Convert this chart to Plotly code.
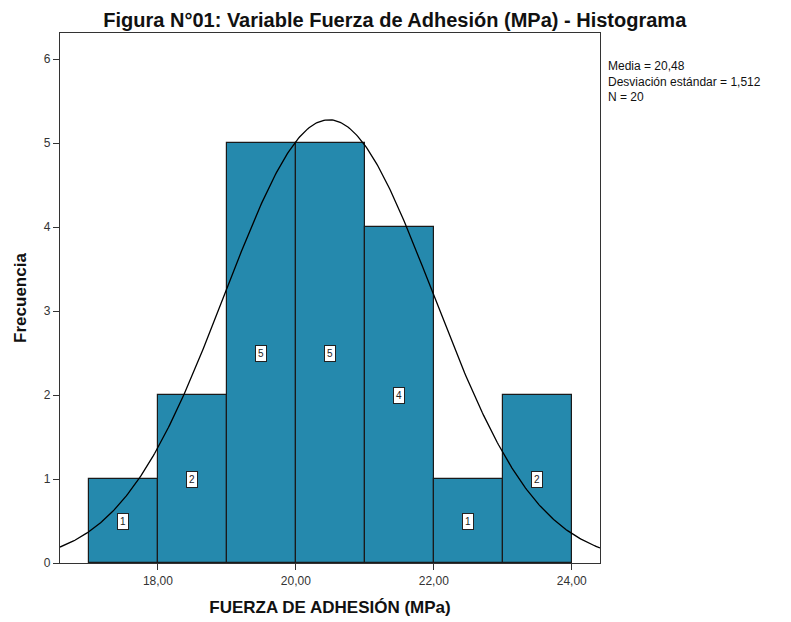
import numpy as np
import plotly.graph_objects as go

bin_centers = [17.5, 18.5, 19.5, 20.5, 21.5, 22.5, 23.5]
counts = [1, 2, 5, 5, 4, 1, 2]
mean_val = 20.48
sd_val = 1.512
n_val = 20
x_ticks = [18, 20, 22, 24]
x_tick_labels = ["18,00", "20,00", "22,00", "24,00"]
y_ticks = [0, 1, 2, 3, 4, 5, 6]

x_range = [16.58, 24.41]
y_range = [0, 6.31]

bar_color = "#2589AD"

fig = go.Figure()
fig.add_trace(go.Bar(
    x=bin_centers, y=counts, width=1,
    marker=dict(color=bar_color, line=dict(color="#1a1a1a", width=1.2)),
    hoverinfo="skip", showlegend=False,
))

# normal curve from mean, sd, N (bin width 1)
xs = np.linspace(x_range[0], x_range[1], 400)
ys = n_val * 1.0 / (sd_val * np.sqrt(2 * np.pi)) * np.exp(-0.5 * ((xs - mean_val) / sd_val) ** 2)
fig.add_trace(go.Scatter(x=xs, y=ys, mode="lines",
                         line=dict(color="black", width=1.3),
                         hoverinfo="skip", showlegend=False))

for xc, c in zip(bin_centers, counts):
    fig.add_annotation(x=xc, y=c / 2, text=str(c), showarrow=False,
                       font=dict(family="Liberation Sans, Arial", size=10, color="#222"),
                       bgcolor="white", bordercolor="#222", borderwidth=1,
                       borderpad=2)

fig.add_annotation(xref="paper", yref="paper", x=1.0, y=1.0, xanchor="left", yanchor="top",
                   xshift=6, yshift=-24, align="left", showarrow=False,
                   text=f"Media = {mean_val:.2f}".replace(".", ",") + "<br>"
                        + f"Desviación estándar = {sd_val:.3f}".replace(".", ",") + "<br>"
                        + f"N = {n_val}",
                   font=dict(family="Liberation Sans, Arial", size=12, color="#111"))

fig.update_layout(
    width=783, height=614,
    margin=dict(l=52, r=191, t=25, b=59),
    paper_bgcolor="white", plot_bgcolor="white",
    bargap=0,
    title=dict(text="<b>Figura N°01: Variable Fuerza de Adhesión (MPa) - Histograma</b>",
               x=0.494, xref="container", xanchor="center", y=0.981, yanchor="middle",
               font=dict(family="Liberation Sans, Arial", size=20, color="#111")),
    font=dict(family="Liberation Sans, Arial", size=12, color="#222"),
)
fig.update_xaxes(range=x_range, tickvals=x_ticks, ticktext=x_tick_labels, automargin=False,
                 ticks="outside", ticklen=6, tickcolor="#333", showgrid=False, zeroline=False,
                 showline=True, linecolor="#333", linewidth=1.2, mirror=True,
                 tickfont=dict(size=12, color="#333"),
                 title=dict(text="<b>FUERZA DE ADHESIÓN (MPa)</b>", standoff=14,
                            font=dict(size=17, color="#111")))
fig.update_yaxes(range=y_range, tickvals=y_ticks, automargin=False,
                 ticks="outside", ticklen=6, tickcolor="#333", showgrid=False, zeroline=False,
                 showline=True, linecolor="#333", linewidth=1.2, mirror=True,
                 tickfont=dict(size=12, color="#333"),
                 title=dict(text="<b>Frecuencia</b>", standoff=12,
                            font=dict(size=17, color="#111")))

fig.write_html("out.html")
